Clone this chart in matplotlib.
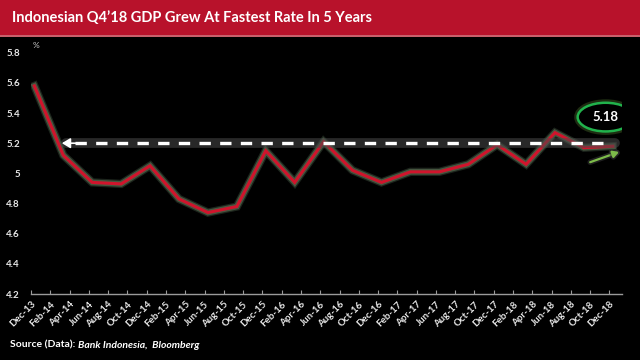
import matplotlib
matplotlib.use("Agg")
import matplotlib.pyplot as plt
import matplotlib.patheffects as pe
from matplotlib.patches import Ellipse, Rectangle

# ---- data ----
quarters = ["Dec-13", "Mar-14", "Jun-14", "Sep-14", "Dec-14", "Mar-15", "Jun-15",
            "Sep-15", "Dec-15", "Mar-16", "Jun-16", "Sep-16", "Dec-16", "Mar-17",
            "Jun-17", "Sep-17", "Dec-17", "Mar-18", "Jun-18", "Sep-18", "Dec-18"]
gdp_growth = [5.58, 5.12, 4.94, 4.93, 5.05, 4.83, 4.74, 4.78, 5.15, 4.94, 5.21,
              5.02, 4.94, 5.01, 5.01, 5.06, 5.19, 5.06, 5.27, 5.17, 5.18]
tick_labels = ["Dec-13", "Feb-14", "Apr-14", "Jun-14", "Aug-14", "Oct-14", "Dec-14",
               "Feb-15", "Apr-15", "Jun-15", "Aug-15", "Oct-15", "Dec-15", "Feb-16",
               "Apr-16", "Jun-16", "Aug-16", "Oct-16", "Dec-16", "Feb-17", "Apr-17",
               "Jun-17", "Aug-17", "Oct-17", "Dec-17", "Feb-18", "Apr-18", "Jun-18",
               "Aug-18", "Oct-18", "Dec-18"]
y_ticks = [4.2, 4.4, 4.6, 4.8, 5.0, 5.2, 5.4, 5.6, 5.8]
y_tick_labels = ["4.2", "4.4", "4.6", "4.8", "5", "5.2", "5.4", "5.6", "5.8"]
ref_level = 5.2
latest_label = "5.18"

plt.rcParams['font.family'] = ['Lato', 'DejaVu Sans']

fig = plt.figure(figsize=(6.4, 3.6), dpi=100, facecolor='black')

# title bar
fig.patches.append(Rectangle((0, 1 - 35 / 360), 1, 35 / 360, transform=fig.transFigure,
                             facecolor='#b8122b', edgecolor='none', zorder=0))
fig.patches.append(Rectangle((0, 1 - 37 / 360), 1, 2.5 / 360, transform=fig.transFigure,
                             facecolor='#c8606c', edgecolor='none', zorder=0))
fig.text(12 / 640, 1 - 18 / 360, "Indonesian Q4\u201918 GDP Grew At Fastest Rate In 5 Years",
         color='white', fontsize=10.5, fontweight='bold', va='center', ha='left')

ax = fig.add_axes([31 / 640, 1 - 294 / 360, (622 - 31) / 640, (294 - 52.7) / 360])
ax.set_facecolor('black')

x_months = [3 * i + 0.35 for i in range(len(quarters))]
tick_pos = [2 * i for i in range(len(tick_labels))]

ax.plot(x_months, gdp_growth, color='#d0142c', lw=2.2, solid_joinstyle='miter', zorder=3,
        path_effects=[pe.Stroke(linewidth=6, foreground='#1c241c'),
                      pe.Stroke(linewidth=4.2, foreground='#46553f'),
                      pe.Normal()])

# reference dashed arrow at 5.2
ax.plot([3.6, 60.6], [ref_level, ref_level], color='#4a4a4a', lw=7, alpha=0.55,
        solid_capstyle='round', zorder=4)
ax.plot([4.6, 60.3], [ref_level, ref_level], color='white', lw=2.4,
        dashes=(3.4, 2.8), zorder=5)
ax.annotate('', xy=(3.2, ref_level), xytext=(4.8, ref_level),
            arrowprops=dict(arrowstyle='-|>,head_length=0.5,head_width=0.3',
                            color='white', lw=1.2, shrinkA=0, shrinkB=0), zorder=6)

# green circle with latest value
ell = Ellipse((59.6, 5.373), 5.8, 0.19, facecolor='black', edgecolor='#21b24c', lw=1.8,
              zorder=7, path_effects=[pe.Stroke(linewidth=5, foreground='#3c5a24', alpha=0.5),
                                      pe.Normal()])
ax.add_patch(ell)
ax.text(59.6, 5.373, latest_label, color='white', fontsize=9.5, fontweight='bold',
        ha='center', va='center', zorder=8)

# green up arrow
ax.annotate('', xy=(61.0, 5.142), xytext=(58.0, 5.074),
            arrowprops=dict(arrowstyle='-|>,head_length=0.35,head_width=0.2',
                            color='#7dbb4a', lw=1.6, shrinkA=0, shrinkB=0,
                            path_effects=[pe.Stroke(linewidth=4, foreground='#333333', alpha=0.6),
                                          pe.Normal()]),
            zorder=8)

ax.set_xlim(0, 61.3)
ax.set_ylim(4.2, 5.8)
ax.set_yticks(y_ticks)
ax.set_yticklabels(y_tick_labels)
ax.set_xticks(tick_pos)
ax.set_xticklabels(tick_labels, rotation=45, ha='right', rotation_mode='anchor')

for s in ['top', 'right', 'left']:
    ax.spines[s].set_visible(False)
ax.spines['bottom'].set_color('#9a9a9a')
ax.spines['bottom'].set_linewidth(1)
ax.tick_params(axis='x', direction='in', length=3, color='#9a9a9a', labelcolor='#e8e8e8',
               labelsize=7, pad=4)
ax.tick_params(axis='y', length=0, labelcolor='#e8e8e8', labelsize=7, pad=8)
for lbl in ax.get_xticklabels() + ax.get_yticklabels():
    lbl.set_fontweight('bold')

fig.text(36 / 640, 1 - 45 / 360, "%", color='#cccccc', fontsize=6, ha='center', va='center')

t1 = fig.text(10 / 640, 1 - 345 / 360, "Source (Data): ", color='white', fontsize=7.5,
              fontweight='bold', va='center', ha='left')
fig.canvas.draw()
ax.annotate("Bank Indonesia,  Bloomberg", xy=(1, 0.5), xycoords=t1, va='center', ha='left',
            color='white', fontsize=7.5, fontweight='bold', fontstyle='italic',
            annotation_clip=False)

fig.savefig('out.png', dpi=100, facecolor='black')
